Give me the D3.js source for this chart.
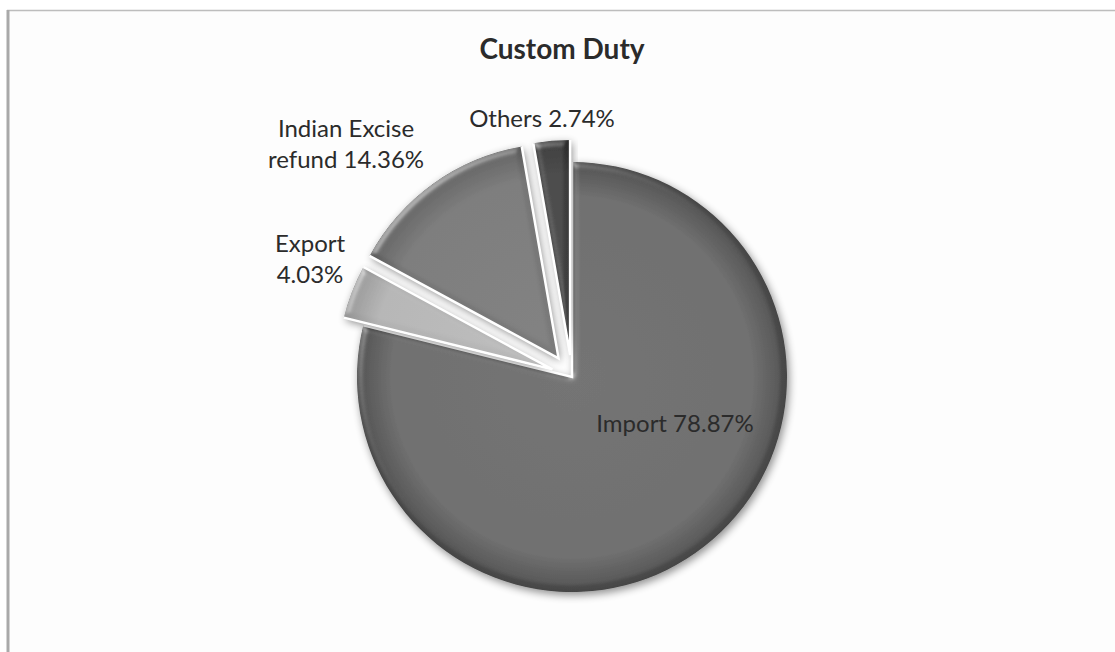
<!DOCTYPE html>
<html>
<head>
<meta charset="utf-8">
<script src="https://cdn.jsdelivr.net/npm/d3@7"></script>
<style>
  html, body { margin: 0; padding: 0; background: #ffffff; }
  svg { display: block; }
  text { font-family: Lato, "Open Sans", sans-serif; fill: #2b2b2b; }
</style>
</head>
<body>
<svg id="chart" width="1115" height="652"></svg>
<script>
// Custom duty breakdown (percent of total)
const categories = ["Import", "Export", "Indian Excise refund", "Others"];
const shares = [78.87, 4.03, 14.36, 2.74];
const labelLines = [
  ["Import 78.87%"],
  ["Export", "4.03%"],
  ["Indian Excise", "refund 14.36%"],
  ["Others 2.74%"]
];
const chartTitle = "Custom Duty";

// Layout
const W = 1115, H = 652;
const cx = 572, cy = 377, radius = 215;
const explode = [0, 21, 23, 22];          // outward shift of each slice
const baseFill = ["#676767", "#b2b2b2", "#767676", "#3d3d3d"];
const rimFill  = ["#454545", "#939393", "#5a5a5a", "#2a2a2a"];
// label anchor offsets from the pie centre (x, y of first baseline)
const labelPos = [[103, 55], [-262, -125], [-226, -240], [-30, -250]];
const lineGap = 31;

const svg = d3.select("#chart");
const defs = svg.append("defs");

// chart frame
svg.append("rect").attr("x", 0).attr("y", 0).attr("width", W).attr("height", H).attr("fill", "#ffffff");
svg.append("rect").attr("x", 9).attr("y", 11).attr("width", W - 9).attr("height", H - 11).attr("fill", "#fdfdfd");
svg.append("line").attr("x1", 7).attr("x2", W).attr("y1", 10.5).attr("y2", 10.5)
  .attr("stroke", "#bdbdbd").attr("stroke-width", 1.5);
svg.append("line").attr("x1", 8).attr("x2", 8).attr("y1", 10).attr("y2", H)
  .attr("stroke", "#a9a9a9").attr("stroke-width", 3);

// soft shadow + bevel on the slices
const f = defs.append("filter").attr("id", "sliceFx")
  .attr("x", "-20%").attr("y", "-20%").attr("width", "140%").attr("height", "140%");
f.append("feGaussianBlur").attr("in", "SourceAlpha").attr("stdDeviation", 3).attr("result", "blur");
const spec = f.append("feSpecularLighting").attr("in", "blur").attr("surfaceScale", 3)
  .attr("specularConstant", 0.6).attr("specularExponent", 18).attr("lighting-color", "#ffffff")
  .attr("result", "spec");
spec.append("feDistantLight").attr("azimuth", 225).attr("elevation", 32);
f.append("feComposite").attr("in", "spec").attr("in2", "SourceAlpha").attr("operator", "in").attr("result", "specIn");
f.append("feComposite").attr("in", "SourceGraphic").attr("in2", "specIn").attr("operator", "arithmetic")
  .attr("k1", 0).attr("k2", 1).attr("k3", 0.5).attr("k4", 0).attr("result", "lit");
f.append("feOffset").attr("in", "SourceAlpha").attr("dx", 2).attr("dy", 3).attr("result", "off");
f.append("feGaussianBlur").attr("in", "off").attr("stdDeviation", 4).attr("result", "shBlur");
f.append("feComponentTransfer").attr("in", "shBlur").attr("result", "shadow")
  .append("feFuncA").attr("type", "linear").attr("slope", 0.45);
const m = f.append("feMerge");
m.append("feMergeNode").attr("in", "shadow");
m.append("feMergeNode").attr("in", "lit");

// radial shading per slice
baseFill.forEach((c, i) => {
  const g = defs.append("radialGradient").attr("id", "grad" + i)
    .attr("gradientUnits", "userSpaceOnUse").attr("cx", 0).attr("cy", 0).attr("r", radius);
  g.append("stop").attr("offset", "0%").attr("stop-color", d3.color(c).brighter(0.12));
  g.append("stop").attr("offset", "84%").attr("stop-color", c);
  g.append("stop").attr("offset", "100%").attr("stop-color", rimFill[i]);
});

const pie = d3.pie().sort(null).value(d => d)(shares);
const arc = d3.arc().innerRadius(0).outerRadius(radius);

const gPie = svg.append("g").attr("transform", `translate(${cx},${cy})`);

const slices = gPie.selectAll("g.slice").data(pie).join("g")
  .attr("class", "slice")
  .attr("transform", (d, i) => {
    const a = (d.startAngle + d.endAngle) / 2;
    return `translate(${Math.sin(a) * explode[i]},${-Math.cos(a) * explode[i]})`;
  });

slices.append("path")
  .attr("d", arc)
  .attr("fill", (d, i) => `url(#grad${i})`)
  .attr("filter", "url(#sliceFx)");

// white separators along each slice's straight edges
const edgeLine = d => {
  const p0 = [Math.sin(d.startAngle) * radius, -Math.cos(d.startAngle) * radius];
  const p1 = [Math.sin(d.endAngle) * radius, -Math.cos(d.endAngle) * radius];
  return `M${p0}L0,0L${p1}`;
};
slices.append("path")
  .attr("d", edgeLine)
  .attr("fill", "none")
  .attr("stroke", "#ffffff")
  .attr("stroke-width", 2.5)
  .attr("stroke-linejoin", "miter");

// title
svg.append("text")
  .attr("x", 562).attr("y", 59)
  .attr("text-anchor", "middle")
  .attr("font-weight", "bold")
  .attr("font-size", 28)
  .attr("fill", "#111")
  .text(chartTitle);

// data labels
const labels = svg.append("g").attr("class", "labels");
labelLines.forEach((lines, i) => {
  const t = labels.append("text")
    .attr("text-anchor", "middle")
    .attr("font-size", 24)
    .attr("fill", i === 0 ? "#1c1c1c" : "#383838");
  lines.forEach((ln, j) => {
    t.append("tspan")
      .attr("x", cx + labelPos[i][0])
      .attr("y", cy + labelPos[i][1] + j * lineGap)
      .text(ln);
  });
});
</script>
</body>
</html>
